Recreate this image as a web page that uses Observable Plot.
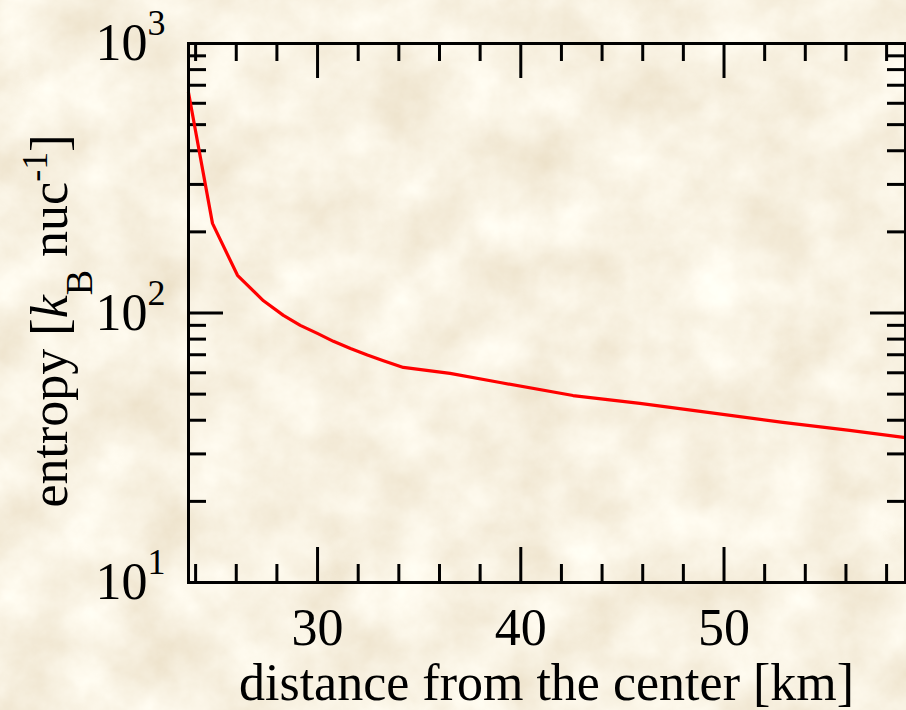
<!DOCTYPE html>
<html>
<head>
<meta charset="utf-8">
<script src="https://cdn.jsdelivr.net/npm/d3@7"></script>
<script src="https://cdn.jsdelivr.net/npm/@observablehq/plot@0.6"></script>
<style>
  html, body { margin: 0; padding: 0; }
  body { width: 906px; height: 710px; overflow: hidden; position: relative; background: #efe1c2; }
  #paper, #chart { position: absolute; left: 0; top: 0; }
</style>
</head>
<body>
<!-- parchment backdrop -->
<svg id="paper" width="906" height="710">
  <filter id="grain" x="0" y="0" width="100%" height="100%">
    <feTurbulence type="fractalNoise" baseFrequency="0.016" numOctaves="6" seed="11"/>
    <feColorMatrix type="matrix" values="0.22 0 0 0 0.83  0.30 0 0 0 0.735  0.40 0 0 0 0.56  0 0 0 0 1"/>
  </filter>
  <rect width="906" height="710" filter="url(#grain)"/>
</svg>
<div id="chart"></div>
<script>
// Entropy profile against distance from the centre
const distance = [23.65, 24.83, 26.06, 27.34, 28.32, 29.15, 29.99, 30.78, 31.62, 32.45, 33.24, 34.22, 36.52, 38.98, 42.57, 45.86, 49.30, 52.89, 56.18, 58.93];
const entropy  = [658, 215, 138, 111, 98, 90, 84, 78.5, 73.8, 69.8, 66.5, 62.8, 59.7, 55.2, 49.4, 46.2, 42.7, 39.3, 36.7, 34.5];

const xDomain = [23.65, 58.93];
const yDomain = [10, 1000];
const xMajor = [30, 40, 50];
const xMinor = [24, 26, 28, 32, 34, 36, 38, 42, 44, 46, 48, 52, 54, 56, 58];
const yMajor = [10, 100, 1000];
const yMinor = [20, 30, 40, 50, 60, 70, 80, 90, 200, 300, 400, 500, 600, 700, 800, 900];

const profile = distance.map((d, i) => ({distance: d, entropy: entropy[i]}));

const W = 906, H = 710, mL = 188, mR = 1, mT = 43, mB = 128;
const fw = W - mL - mR, fh = H - mT - mB;
const majorLen = 35, minorLen = 18;
const tick = {stroke: "black", strokeWidth: 3};

const chart = Plot.plot({
  width: W, height: H,
  marginLeft: mL, marginRight: mR, marginTop: mT, marginBottom: mB,
  style: {background: "transparent", fontFamily: "Liberation Serif", color: "black"},
  x: {domain: xDomain},
  y: {type: "log", domain: yDomain},
  marks: [
    // ticks pointing inward on all four sides
    Plot.ruleX(xMajor, {...tick, insetTop: fh - majorLen}),
    Plot.ruleX(xMajor, {...tick, insetBottom: fh - majorLen}),
    Plot.ruleX(xMinor, {...tick, insetTop: fh - minorLen}),
    Plot.ruleX(xMinor, {...tick, insetBottom: fh - minorLen}),
    Plot.ruleY(yMajor, {...tick, insetRight: fw - majorLen}),
    Plot.ruleY(yMajor, {...tick, insetLeft: fw - majorLen}),
    Plot.ruleY(yMinor, {...tick, insetRight: fw - minorLen}),
    Plot.ruleY(yMinor, {...tick, insetLeft: fw - minorLen}),
    Plot.line(profile, {x: "distance", y: "entropy", stroke: "#ff0000", strokeWidth: 3.2}),
    Plot.frame({stroke: "black", strokeWidth: 3}),
    Plot.axisX(xMajor, {anchor: "bottom", tickSize: 0, tickPadding: 26, fontSize: 52, label: null}),
    Plot.axisY(yMajor, {anchor: "left", tickSize: 0, tickPadding: 23, fontSize: 52, label: null,
      tickFormat: d => String(Math.round(Math.log10(d)))})
  ]
});
document.getElementById("chart").appendChild(chart);

const svg = d3.select(chart);

// powers of ten: "10" with the exponent raised
svg.selectAll('g[aria-label="y-axis tick label"] text').each(function () {
  const t = d3.select(this);
  const e = t.text();
  t.text("10");
  t.append("tspan").attr("font-size", 36).attr("dy", -25).text(e);
});

svg.append("text")
  .attr("x", mL + fw / 2).attr("y", 700)
  .attr("text-anchor", "middle").attr("font-size", 52).attr("fill", "black")
  .text("distance from the center [km]");

const yt = svg.append("text")
  .attr("transform", "translate(67,321) rotate(-90)")
  .attr("text-anchor", "middle").attr("font-size", 52).attr("fill", "black");
yt.append("tspan").text("entropy [");
yt.append("tspan").attr("font-style", "italic").text("k");
yt.append("tspan").attr("font-size", 38).attr("dy", 25).text("B");
yt.append("tspan").attr("dy", -25).text("\u00a0nuc");
yt.append("tspan").attr("font-size", 36).attr("dy", -20).text("-1");
yt.append("tspan").attr("dy", 20).text("]");
</script>
</body>
</html>
